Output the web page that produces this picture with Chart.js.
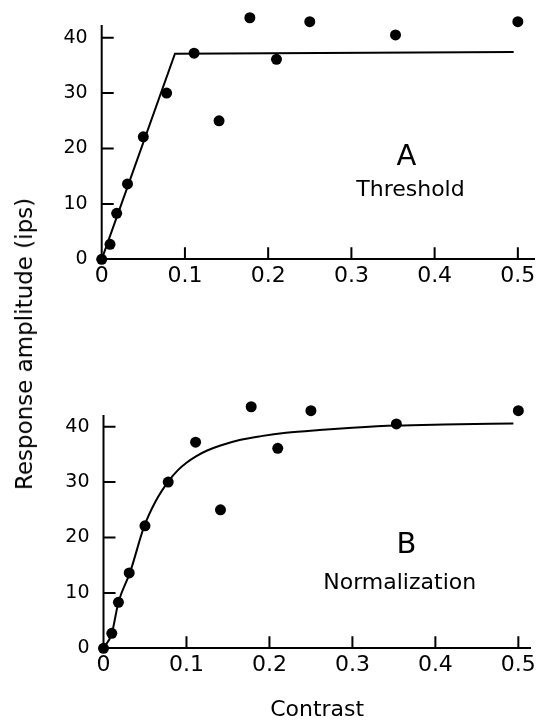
<!DOCTYPE html>
<html>
<head>
<meta charset="utf-8">
<script src="https://cdn.jsdelivr.net/npm/chart.js@4.4.1/dist/chart.umd.min.js"></script>
<style>
  body { margin: 0; background: #fff; }
  #wrap { position: relative; width: 540px; height: 723px; overflow: hidden; background: #fff; }
  canvas { position: absolute; left: 0; }
  #chartA { top: -30px; }
  #chartB { top: 360px; }
  #ytitle {
    position: absolute; left: 24px; top: 344px;
    transform: translate(-50%, -50%) rotate(-90deg);
    font: 23px "DejaVu Sans", sans-serif; color: #000; white-space: nowrap;
  }
</style>
</head>
<body>
<div id="wrap">
  <canvas id="chartA" width="540" height="330"></canvas>
  <canvas id="chartB" width="540" height="363"></canvas>
  <div id="ytitle">Response amplitude (ips)</div>
</div>
<script>
// measured responses, same cell in both panels
const contrast = [0, 0.010, 0.018, 0.031, 0.050, 0.078, 0.111, 0.141, 0.178, 0.210, 0.250, 0.353, 0.500];
const response = [0, 2.7, 8.3, 13.6, 22.1, 30.0, 37.2, 25.0, 43.6, 36.1, 42.9, 40.5, 42.9];

// panel A: threshold-linear fit
const thresholdX = [0, 0.088, 0.495];
const thresholdY = [0, 37.1, 37.4];

// panel B: normalization fit
const normX = [0, 0.010, 0.018, 0.032, 0.049, 0.063, 0.078, 0.090, 0.100, 0.112, 0.125, 0.141, 0.164, 0.190, 0.220, 0.260, 0.300, 0.353, 0.410, 0.494];
const normY = [0, 2.7, 8.3, 13.7, 22.0, 26.6, 30.1, 32.2, 33.5, 34.7, 35.7, 36.6, 37.6, 38.3, 38.9, 39.4, 39.8, 40.2, 40.4, 40.6];

const xTicks = [0, 0.1, 0.2, 0.3, 0.4, 0.5];
const yTicks = [0, 10, 20, 30, 40];

const FONT = '"DejaVu Sans", sans-serif';

function toPoints(xs, ys) {
  return xs.map((x, i) => ({ x: x, y: ys[i] }));
}

// y axis line stops short of the top dots; tick marks point inward
const axesAndTicks = {
  id: 'axesAndTicks',
  afterDatasetsDraw(chart, args, opts) {
    const c = chart.ctx;
    const xs = chart.scales.x, ys = chart.scales.y;
    const len = 12;
    c.save();
    c.strokeStyle = '#000';
    c.lineWidth = 2;
    c.beginPath();
    const x0 = xs.getPixelForValue(0);
    c.moveTo(x0, ys.getPixelForValue(0) + 1);
    c.lineTo(x0, ys.getPixelForValue(opts.yTop));
    xTicks.forEach(v => {
      if (v === 0) return;
      const px = xs.getPixelForValue(v);
      c.moveTo(px, ys.bottom);
      c.lineTo(px, ys.bottom - len);
    });
    yTicks.forEach(v => {
      if (v === 0) return;
      const py = ys.getPixelForValue(v);
      c.moveTo(x0, py);
      c.lineTo(x0 + len, py);
    });
    c.stroke();
    c.restore();
  }
};

const panelText = {
  id: 'panelText',
  afterDraw(chart, args, opts) {
    const c = chart.ctx;
    c.save();
    c.fillStyle = '#000';
    c.textAlign = 'center';
    c.textBaseline = 'middle';
    opts.items.forEach(it => {
      c.font = it.size + 'px ' + FONT;
      c.fillText(it.text, chart.scales.x.getPixelForValue(it.x), chart.scales.y.getPixelForValue(it.y));
    });
    c.restore();
  }
};

function makeChart(id, fitData, fitSmooth, box, labels, xTitle) {
  return new Chart(document.getElementById(id), {
    type: 'scatter',
    data: {
      datasets: [{
        data: toPoints(contrast, response),
        pointRadius: 5.5,
        pointBackgroundColor: '#000',
        pointBorderWidth: 0,
        clip: false
      }, {
        data: fitData,
        showLine: true,
        borderColor: '#000',
        borderWidth: 2,
        pointRadius: 0,
        cubicInterpolationMode: fitSmooth ? 'monotone' : 'default',
        clip: false
      }]
    },
    options: {
      responsive: false,
      animation: false,
      events: [],
      layout: { padding: { top: box.top, right: box.right, left: 0, bottom: 0 } },
      plugins: {
        legend: { display: false },
        tooltip: { enabled: false },
        panelText: { items: labels },
        axesAndTicks: { yTop: box.yTop }
      },
      scales: {
        x: {
          type: 'linear',
          min: 0, max: box.xMax,
          afterFit: s => { s.height = box.xHeight; },
          grid: { display: true, drawOnChartArea: false, drawTicks: false },
          border: { display: true, color: '#000', width: 2 },
          ticks: {
            stepSize: 0.1, includeBounds: false, padding: 4,
            color: '#000', font: { family: FONT, size: 22 },
            callback: v => v === 0 ? '0' : v.toFixed(1)
          },
          title: xTitle ? {
            display: true, text: xTitle, color: '#000',
            font: { family: FONT, size: 22 }, padding: { top: 3, bottom: 0 }
          } : { display: false }
        },
        y: {
          type: 'linear',
          min: 0, max: 45,
          afterFit: s => { s.width = box.left; },
          grid: { display: false, drawTicks: false },
          border: { display: false },
          ticks: {
            stepSize: 10, includeBounds: false, padding: 14,
            color: '#000', font: { family: FONT, size: 19 }
          }
        }
      }
    },
    plugins: [axesAndTicks, panelText]
  });
}

// chart area top sits at y = 45 so that the highest dots are inside it
// (canvas A starts 30px above the page, so its padding is 10 + 30)
makeChart('chartA', toPoints(thresholdX, thresholdY), false,
  { top: 40, right: 3, left: 101.7, xHeight: 40.7, xMax: 0.52, yTop: 42.3 },
  [{ text: 'A', x: 0.366, y: 18.3, size: 29 }, { text: 'Threshold', x: 0.371, y: 12.4, size: 22 }],
  null);

makeChart('chartB', toPoints(normX, normY), true,
  { top: 39, right: 3, left: 103.5, xHeight: 74.7, xMax: 0.515, yTop: 42.1 },
  [{ text: 'B', x: 0.365, y: 18.5, size: 29 }, { text: 'Normalization', x: 0.357, y: 11.8, size: 22 }],
  'Contrast');
</script>
</body>
</html>
